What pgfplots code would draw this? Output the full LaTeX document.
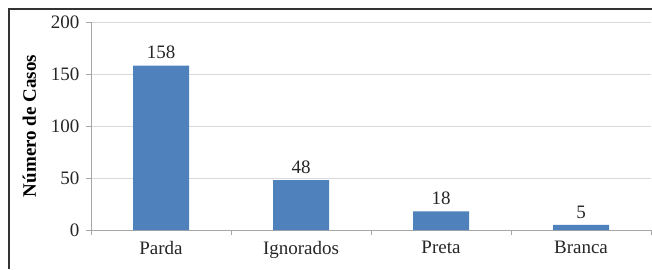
\documentclass[border=0pt]{standalone}
\usepackage{pgfplots}
\pgfplotsset{compat=1.18}
\usepackage{fontspec}
\setmainfont{Liberation Serif}
\definecolor{barblue}{HTML}{4F81BD}
\definecolor{gridgray}{HTML}{D9D9D9}
\definecolor{axgray}{HTML}{A6A6A6}
\begin{document}
\begin{tikzpicture}[x=1pt,y=1pt]
\useasboundingbox (0,0) rectangle (652,269);
\draw[line width=1.2pt, black!80] (9,0) -- (9,260) -- (652,260);
\begin{axis}[
  at={(91pt,39pt)}, anchor=south west,
  scale only axis, width=560pt, height=208pt,
  xmin=-0.5, xmax=3.5, ymin=0, ymax=200,
  ytick={0,50,100,150,200},
  xtick={0,1,2,3},
  xticklabels={Parda,Ignorados,Preta,Branca},
  minor xtick={-0.5,0.5,1.5,2.5,3.5},
  major x tick style={draw=none},
  minor x tick style={axgray, line width=0.8pt},
  minor tick length=5pt,
  y tick style={axgray, line width=0.8pt},
  major tick length=5pt,
  tick align=outside,
  axis x line*=bottom, axis y line*=left,
  axis line style={axgray, line width=0.8pt, -},
  ymajorgrids, grid style={gridgray, line width=0.8pt},
  tick label style={font=\fontsize{19}{20}\selectfont, text=black!85},
  /pgf/number format/assume math mode=true,
  ylabel={\textbf{Número de Casos}},
  ylabel style={font=\fontsize{19}{20}\selectfont},
  ylabel shift=8pt,
  xticklabel style={yshift=-3pt},
  yticklabel style={xshift=-3pt},
  ybar, bar width=56pt,
  nodes near coords,
  nodes near coords style={font=\fontsize{19}{20}\selectfont, text=black!85, yshift=3pt},
  clip=false,
]
\addplot[fill=barblue, draw=none] coordinates {(0,158) (1,48) (2,18) (3,5)};
\end{axis}
\end{tikzpicture}
\end{document}
